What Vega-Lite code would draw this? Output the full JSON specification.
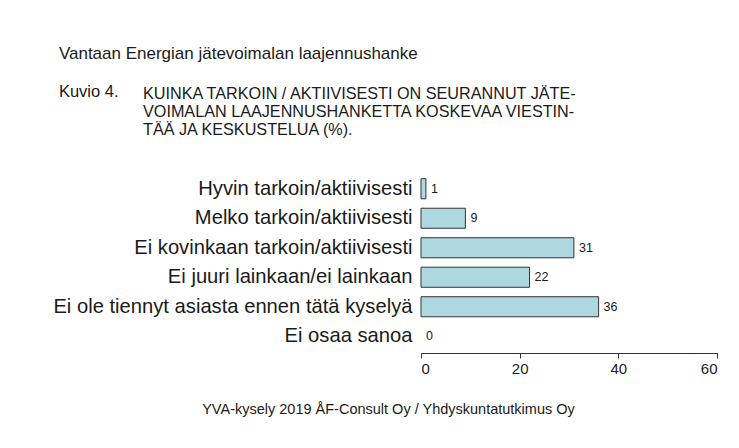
{
  "$schema": "https://vega.github.io/schema/vega-lite/v6.json",
  "background": "white",
  "padding": {"left": 52, "top": 45, "right": 10, "bottom": 10},
  "config": {
    "font": "Liberation Sans",
    "view": {"stroke": null}
  },
  "title": {
    "text": "Vantaan Energian jätevoimalan laajennushanke",
    "subtitle": "Kuvio 4.",
    "anchor": "start",
    "frame": "bounds",
    "dx": 6,
    "font": "Liberation Sans",
    "fontSize": 17,
    "fontWeight": "normal",
    "color": "#1a1a1a",
    "subtitleFont": "Liberation Sans",
    "subtitleFontSize": 16.5,
    "subtitleColor": "#1a1a1a",
    "subtitlePadding": 21,
    "offset": -16
  },
  "vconcat": [
    {
      "width": 296,
      "height": 177,
      "title": {
        "text": [
          "KUINKA TARKOIN / AKTIIVISESTI ON SEURANNUT JÄTE-",
          "VOIMALAN LAAJENNUSHANKETTA KOSKEVAA VIESTIN-",
          "TÄÄ JA KESKUSTELUA (%)."
        ],
        "anchor": "start",
        "frame": "group",
        "dx": -278,
        "font": "Liberation Sans",
        "fontSize": 16.2,
        "lineHeight": 18,
        "fontWeight": "normal",
        "color": "#1a1a1a",
        "offset": 36
      },
      "data": {
        "values": [
          {"cat": "Hyvin tarkoin/aktiivisesti", "value": 1},
          {"cat": "Melko tarkoin/aktiivisesti", "value": 9},
          {"cat": "Ei kovinkaan tarkoin/aktiivisesti", "value": 31},
          {"cat": "Ei juuri lainkaan/ei lainkaan", "value": 22},
          {"cat": "Ei ole tiennyt asiasta ennen tätä kyselyä", "value": 36},
          {"cat": "Ei osaa sanoa", "value": 0}
        ]
      },
      "encoding": {
        "y": {
          "field": "cat",
          "type": "nominal",
          "sort": null,
          "scale": {"paddingInner": 0.32, "paddingOuter": 0.16},
          "axis": {
            "title": null,
            "ticks": false,
            "domain": false,
            "labelFontSize": 20.2,
            "labelColor": "#1a1a1a",
            "labelPadding": 9,
            "labelLimit": 0
          }
        },
        "x": {
          "field": "value",
          "type": "quantitative",
          "scale": {"domain": [0, 60], "nice": false},
          "axis": {
            "values": [0, 20, 40, 60],
            "grid": false,
            "offset": 2,
            "tickSize": 5,
            "domainColor": "#333333",
            "tickColor": "#333333",
            "labelFontSize": 15,
            "labelColor": "#222222",
            "labelPadding": 3,
            "title": "YVA-kysely 2019 ÅF-Consult Oy / Yhdyskuntatutkimus Oy",
            "titleFontSize": 14.5,
            "titleFontWeight": "normal",
            "titleColor": "#1a1a1a",
            "titleAlign": "center",
            "titleBaseline": "alphabetic",
            "titleX": -33,
            "titleY": 60
          }
        }
      },
      "layer": [
        {
          "transform": [{"filter": "datum.value > 0"}],
          "mark": {"type": "bar", "fill": "#add8df", "stroke": "#333333", "strokeWidth": 1}
        },
        {
          "mark": {"type": "text", "align": "left", "baseline": "middle", "dx": 5, "fontSize": 12.5, "color": "#1a1a1a"},
          "encoding": {"text": {"field": "value", "type": "quantitative"}}
        }
      ]
    }
  ]
}
